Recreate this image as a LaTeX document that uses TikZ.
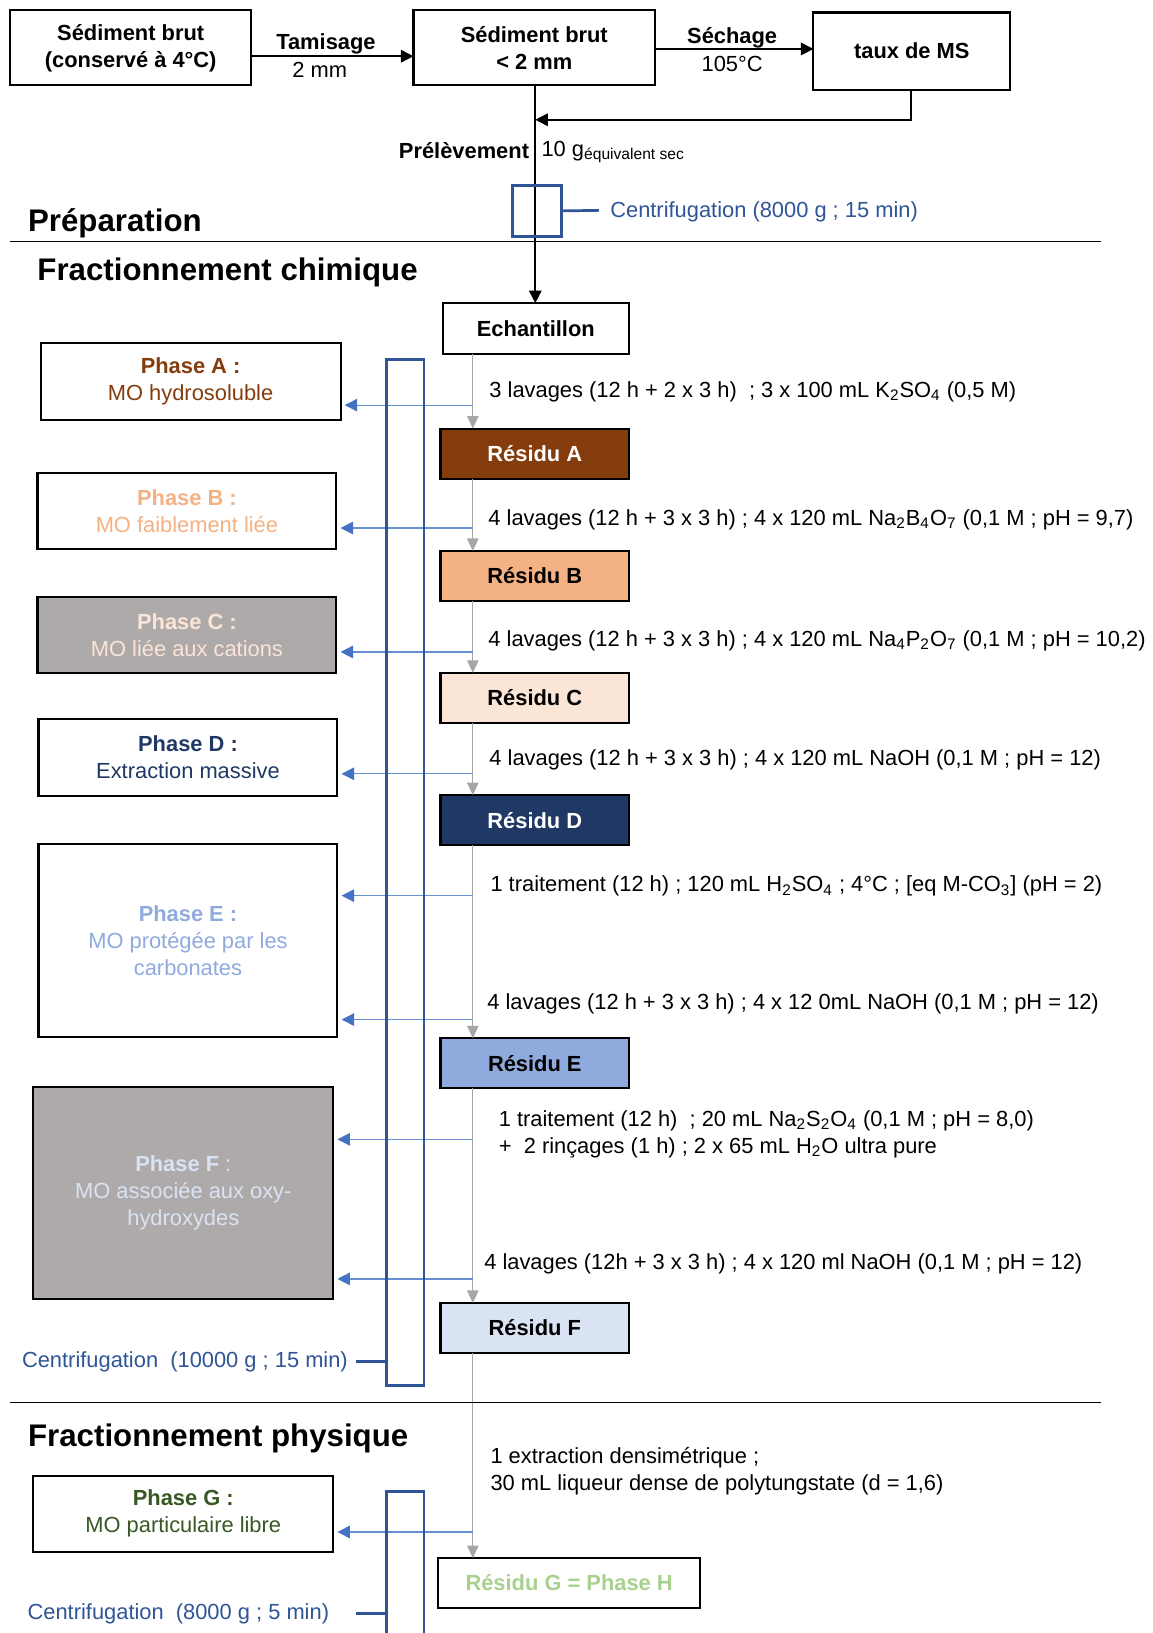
\documentclass[tikz,border=0pt]{standalone}
\usepackage{fontspec}
\setmainfont{Liberation Sans}
\usetikzlibrary{arrows.meta,calc}
\definecolor{cbrown}{HTML}{843C0C}
\definecolor{corange}{HTML}{F4B183}
\definecolor{cpeach}{HTML}{FBE5D6}
\definecolor{cnavy}{HTML}{203864}
\definecolor{clblue}{HTML}{8FAADC}
\definecolor{cpblue}{HTML}{DAE3F3}
\definecolor{cgrayf}{HTML}{AEAAAA}
\definecolor{cdgreen}{HTML}{385723}
\definecolor{clgreen}{HTML}{A9D18E}
\definecolor{cbrect}{HTML}{2F5597}
\definecolor{cbarrow}{HTML}{4472C4}
\definecolor{cgline}{HTML}{A6A6A6}
\begin{document}
\begin{tikzpicture}[x=0.5pt,y=-0.5pt,
  every node/.style={inner sep=0pt,outer sep=0pt,font=\fontsize{10.5}{13}\selectfont},
  topbox/.style={draw=black,line width=1pt,align=center,font=\fontsize{10.5}{13}\selectfont\bfseries},
  resbox/.style={draw=black,line width=1pt,minimum width=90.5pt,minimum height=24pt,font=\fontsize{10.5}{13}\selectfont\bfseries},
  phbox/.style={draw=black,line width=1pt,align=center,font=\fontsize{10.5}{13}\selectfont},
  heading/.style={anchor=west,yshift=-1.5pt,font=\fontsize{15}{17}\selectfont\bfseries},
  steptxt/.style={anchor=west,align=left,yshift=-1pt,font=\fontsize{10.5}{13}\selectfont},
  blk/.style={line width=0.8pt,-{Triangle[length=6pt,width=6pt]}},
  gline/.style={cgline,line width=0.6pt,-{Triangle[length=6pt,width=5.5pt]}},
  barrow/.style={cbarrow!80,line width=0.6pt,-{Triangle[length=6pt,width=6pt,color=cbarrow]},shorten >=2pt},
  centri/.style={draw=cbrect,line width=1.3pt},
  ctext/.style={text=cbrect,yshift=-0.5pt,font=\fontsize{10.5}{13}\selectfont},
  sep/.style={line width=0.6pt}
]
\useasboundingbox (0,0) rectangle (1107,1568);

% ---------- top row
\node[topbox,minimum width=115.5pt,minimum height=36pt] (b1) at (125.5,46) {Sédiment brut\\(conservé à 4°C)};
\node[topbox,minimum width=116pt,minimum height=36pt] (b2) at (513,46) {Sédiment brut\\< 2 mm};
\node[topbox,minimum width=94.5pt,minimum height=37pt] (b3) at (875.5,49) {taux de MS};
\draw[blk] (b1.east |- 0,54) -- (b2.west |- 0,54);
\node[font=\fontsize{10.5}{13}\selectfont\bfseries] (tam) at (313,42) {Tamisage};
\node (tam2) at (307,67) {2 mm};
\draw[blk] (b2.east |- 0,47) -- (b3.west |- 0,47);
\node[font=\fontsize{10.5}{13}\selectfont\bfseries] (sec) at (703,36) {Séchage};
\node (sec2) at (703,61) {105°C};
\coordinate (ms) at (875,115);
\coordinate (msend) at (514,115);
\draw[blk] (b3.south -| ms) -- (ms) -- (msend);

% ---------- preparation
\node[topbox,minimum width=89.5pt,minimum height=24.5pt] (ech) at (514.5,315.5) {Echantillon};
\coordinate (vx) at (514,0);
\draw[blk] (b2.south -| vx) -- (ech.north -| vx);
\node[anchor=east,font=\fontsize{10.5}{13}\selectfont\bfseries] (prel) at (508,145) {Prélèvement};
\node[anchor=west] (dix) at (520,146) {10 g\textsubscript{\fontsize{7.5}{9}\selectfont équivalent sec}};
\node[centri,minimum width=23.5pt,minimum height=24.5pt] (cp) at (515.5,202.5) {};
\node[ctext,anchor=west] (cptxt) at (586,202) {Centrifugation (8000 g ; 15 min)};
\draw[cbrect,line width=1.3pt] (cp.east) -- (575,202);

\node[heading] (prep) at (27,211) {Préparation};
\coordinate (s1a) at (10,232); \coordinate (s1b) at (1057,232);
\draw[sep] (s1a) -- (s1b);
\node[heading] (fchim) at (36,259) {Fractionnement chimique};

% ---------- chemical column
\node[centri,minimum width=18pt,minimum height=492.5pt] (colc) at (389,837.5) {};
\node[ctext,anchor=east] (cctxt) at (334,1307) {Centrifugation\ \ (10000 g ; 15 min)};
\draw[cbrect,line width=1.3pt] (342,1307) -- (colc.west |- 0,1307);

% residues
\node[resbox,fill=cbrown,text=white] (rA) at (513.5,435.5) {Résidu A};
\node[resbox,fill=corange] (rB) at (513.5,553) {Résidu B};
\node[resbox,fill=cpeach] (rC) at (513.5,670) {Résidu C};
\node[resbox,fill=cnavy,text=white] (rD) at (513.5,787.5) {Résidu D};
\node[resbox,fill=clblue] (rE) at (513.5,1021) {Résidu E};
\node[resbox,fill=cpblue] (rF) at (513.5,1275) {Résidu F};
\node[resbox,minimum width=125.5pt,text=clgreen] (rG) at (546.5,1520) {Résidu G = Phase H};

% phases
\node[phbox,minimum width=144pt,minimum height=37pt,text=cbrown] (pA) at (183,366) {\textbf{Phase A :}\\MO hydrosoluble};
\node[phbox,minimum width=143.5pt,minimum height=36.5pt,text=corange] (pB) at (179.5,490.5) {\textbf{Phase B :}\\MO faiblement liée};
\node[phbox,minimum width=143.5pt,minimum height=36.5pt,fill=cgrayf,text=cpeach] (pC) at (179.5,609.5) {\textbf{Phase C :}\\MO liée aux cations};
\node[phbox,minimum width=143.5pt,minimum height=37pt,text=cnavy] (pD) at (180.5,727) {\textbf{Phase D :}\\Extraction massive};
\node[phbox,minimum width=143.5pt,minimum height=93pt,text=clblue] (pE) at (180.5,903) {\textbf{Phase E :}\\MO protégée par les\\carbonates};
\node[phbox,minimum width=144pt,minimum height=101.5pt,fill=cgrayf,text=cpblue] (pF) at (176,1145.5) {\textbf{Phase F} :\\MO associée aux oxy-\\hydroxydes};
\node[phbox,minimum width=144pt,minimum height=36.5pt,text=cdgreen] (pG) at (176,1453.5) {\textbf{Phase G :}\\MO particulaire libre};

% gray flow line
\coordinate (gx) at (454,0);
\draw[gline] (ech.south -| gx) -- (rA.north -| gx);
\draw[gline] (rA.south -| gx) -- (rB.north -| gx);
\draw[gline] (rB.south -| gx) -- (rC.north -| gx);
\draw[gline] (rC.south -| gx) -- (rD.north -| gx);
\draw[gline] (rD.south -| gx) -- (rE.north -| gx);
\draw[gline] (rE.south -| gx) -- (rF.north -| gx);
\draw[gline] (rF.south -| gx) -- (rG.north -| gx);

% branch points and blue arrows
\coordinate (kA) at (454,389);
\coordinate (kB) at (454,507);
\coordinate (kC) at (454,626);
\coordinate (kD) at (454,743);
\coordinate (kE1) at (454,860);
\coordinate (kE2) at (454,979);
\coordinate (kF1) at (454,1094);
\coordinate (kF2) at (454,1228);
\coordinate (kG) at (454,1471);
\draw[barrow] (kA) -- (pA.east |- kA);
\draw[barrow] (kB) -- (pB.east |- kB);
\draw[barrow] (kC) -- (pC.east |- kC);
\draw[barrow] (kD) -- (pD.east |- kD);
\draw[barrow] (kE1) -- (pE.east |- kE1);
\draw[barrow] (kE2) -- (pE.east |- kE2);
\draw[barrow] (kF1) -- (pF.east |- kF1);
\draw[barrow] (kF2) -- (pF.east |- kF2);
\draw[barrow] (kG) -- (pG.east |- kG);

% redraw chemical column on top
\draw[cbrect,line width=1.3pt] (colc.south west) rectangle (colc.north east);

% step texts
\node[steptxt] (t1) at (470,374) {3 lavages (12 h + 2 x 3 h)\ \ ; 3 x 100 mL K\textsubscript{2}SO\textsubscript{4} (0,5 M)};
\node[steptxt] (t2) at (469,497) {4 lavages (12 h + 3 x 3 h) ; 4 x 120 mL Na\textsubscript{2}B\textsubscript{4}O\textsubscript{7} (0,1 M ; pH = 9,7)};
\node[steptxt] (t3) at (469,613) {4 lavages (12 h + 3 x 3 h) ; 4 x 120 mL Na\textsubscript{4}P\textsubscript{2}O\textsubscript{7} (0,1 M ; pH = 10,2)};
\node[steptxt] (t4) at (470,728) {4 lavages (12 h + 3 x 3 h) ; 4 x 120 mL NaOH (0,1 M ; pH = 12)};
\node[steptxt] (t5) at (471,849) {1 traitement (12 h) ; 120 mL H\textsubscript{2}SO\textsubscript{4} ; 4°C ; [eq M-CO\textsubscript{3}] (pH = 2)};
\node[steptxt] (t6) at (468,962) {4 lavages (12 h + 3 x 3 h) ; 4 x 12 0mL NaOH (0,1 M ; pH = 12)};
\node[steptxt] (t7) at (479,1087) {1 traitement (12 h)\ \ ; 20 mL Na\textsubscript{2}S\textsubscript{2}O\textsubscript{4} (0,1 M ; pH = 8,0)\\+\ \ 2 rinçages (1 h) ; 2 x 65 mL H\textsubscript{2}O ultra pure};
\node[steptxt] (t8) at (465,1212) {4 lavages (12h + 3 x 3 h) ; 4 x 120 ml NaOH (0,1 M ; pH = 12)};
\node[steptxt] (t9) at (471,1411) {1 extraction densimétrique ;\\30 mL liqueur dense de polytungstate (d = 1,6)};

% ---------- physical
\coordinate (s2a) at (10,1347); \coordinate (s2b) at (1057,1347);
\draw[sep] (s2a) -- (s2b);
\node[heading] (fphys) at (27,1378) {Fractionnement physique};
\coordinate (cpl) at (371,1572); \coordinate (cpr) at (407,1572);
\draw[cbrect,line width=1.3pt] (cpl) -- (371,1432) -- (407,1432) -- (cpr);
\node[ctext,anchor=east] (cgtxt) at (316,1549) {Centrifugation\ \ (8000 g ; 5 min)};
\draw[cbrect,line width=1.3pt] (342,1549) -- (cpl |- 0,1549);
\end{tikzpicture}
\end{document}
